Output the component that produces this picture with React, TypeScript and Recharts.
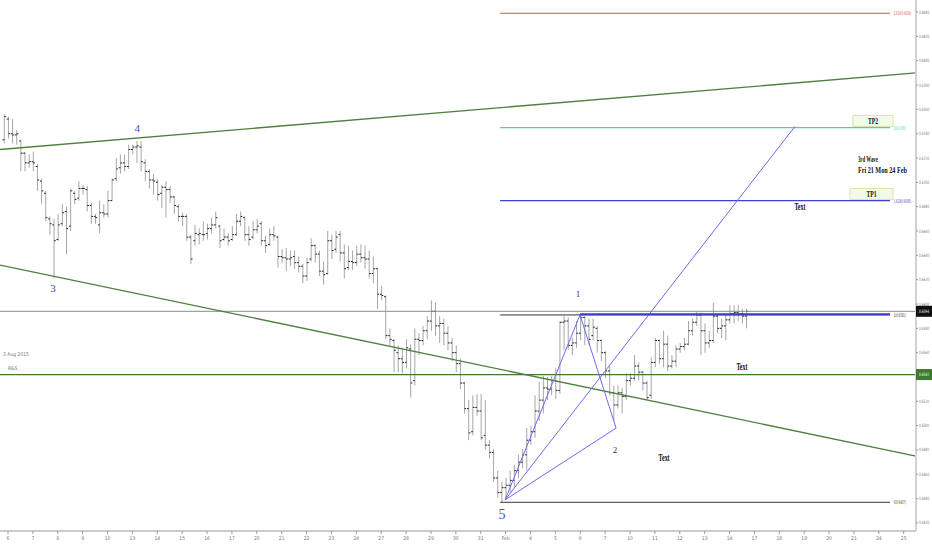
import React from 'react';
import {
  ComposedChart,
  Bar,
  XAxis,
  YAxis,
  ReferenceLine,
  ReferenceDot,
  ReferenceArea,
} from 'recharts';

// 4H bars: [open, high, low, close]
type Ohlc = [number, number, number, number];

const weekJan06: Ohlc[] = [
  [0.6735, 0.6756, 0.6732, 0.6754], [0.6752, 0.6754, 0.6736, 0.674], [0.674, 0.6752, 0.6732, 0.6739],
  [0.6739, 0.6743, 0.6731, 0.674], [0.6734, 0.6735, 0.6709, 0.6724], [0.6724, 0.6725, 0.6709, 0.6716],
  [0.6716, 0.6723, 0.6712, 0.6717], [0.6717, 0.6725, 0.6709, 0.6716], [0.6713, 0.6715, 0.6693, 0.6702],
  [0.6701, 0.6703, 0.6682, 0.6693], [0.6691, 0.6693, 0.6668, 0.6671], [0.667, 0.6672, 0.6657, 0.6666],
  [0.6665, 0.667, 0.6621, 0.6652], [0.6653, 0.6674, 0.6652, 0.6665], [0.6666, 0.6682, 0.6664, 0.6675],
  [0.6676, 0.668, 0.6641, 0.6662], [0.6664, 0.6695, 0.666, 0.6693], [0.6691, 0.6693, 0.6682, 0.6686],
  [0.6687, 0.6701, 0.6685, 0.6695], [0.6695, 0.6698, 0.669, 0.6695], [0.6694, 0.6697, 0.6676, 0.6681],
  [0.6681, 0.6683, 0.6666, 0.6672], [0.6672, 0.6674, 0.6666, 0.6671], [0.6665, 0.6685, 0.6658, 0.6675],
  [0.6675, 0.6682, 0.6671, 0.6674], [0.6674, 0.6693, 0.6671, 0.6685], [0.6685, 0.6703, 0.6685, 0.6702],
  [0.6703, 0.672, 0.6701, 0.6711], [0.6712, 0.6723, 0.6707, 0.6716], [0.6716, 0.6723, 0.6709, 0.6713],
  [0.6713, 0.6731, 0.6711, 0.6727],
];

const weekJan13: Ohlc[] = [
  [0.6727, 0.6731, 0.6723, 0.6729], [0.6729, 0.6734, 0.6716, 0.673], [0.6729, 0.6734, 0.6709, 0.6717],
  [0.6716, 0.6719, 0.6701, 0.6709], [0.6709, 0.6711, 0.6695, 0.6702], [0.6702, 0.6707, 0.669, 0.6701],
  [0.67, 0.6703, 0.6685, 0.669], [0.6691, 0.6698, 0.6679, 0.6696], [0.6696, 0.6701, 0.6671, 0.6694],
  [0.6694, 0.6697, 0.6683, 0.6688], [0.6688, 0.6689, 0.6674, 0.6681], [0.668, 0.6682, 0.6668, 0.6672],
  [0.6672, 0.6675, 0.6664, 0.6672], [0.6672, 0.6674, 0.6652, 0.6655], [0.6655, 0.6657, 0.6633, 0.6637],
  [0.6652, 0.6665, 0.6648, 0.6658], [0.6657, 0.6662, 0.6649, 0.6658], [0.6657, 0.6668, 0.6652, 0.6657],
  [0.6658, 0.6666, 0.6653, 0.6662], [0.6662, 0.6671, 0.6658, 0.6665], [0.6665, 0.6676, 0.6662, 0.6671],
  [0.6664, 0.6665, 0.6646, 0.6652], [0.6653, 0.6662, 0.6652, 0.6655], [0.6655, 0.6658, 0.6648, 0.6652],
  [0.6653, 0.6664, 0.6652, 0.6657], [0.6657, 0.6674, 0.6656, 0.6668], [0.6668, 0.6676, 0.6664, 0.6672],
  [0.6671, 0.6672, 0.6652, 0.6657], [0.6657, 0.6664, 0.6648, 0.6653], [0.6655, 0.6668, 0.6653, 0.6661],
];

const weekJan20: Ohlc[] = [
  [0.6661, 0.667, 0.6658, 0.6664], [0.6666, 0.6668, 0.6648, 0.6652], [0.6652, 0.6656, 0.6642, 0.6648],
  [0.6649, 0.6662, 0.6648, 0.6657], [0.6657, 0.6664, 0.6652, 0.6656], [0.6655, 0.6656, 0.663, 0.6639],
  [0.6639, 0.6645, 0.6634, 0.6638], [0.6638, 0.6646, 0.6627, 0.6637], [0.6637, 0.6644, 0.6631, 0.6638],
  [0.6639, 0.6644, 0.6629, 0.6634], [0.6634, 0.6639, 0.6626, 0.6631], [0.6631, 0.6633, 0.6617, 0.6623],
  [0.6623, 0.6638, 0.6619, 0.6634], [0.6637, 0.6654, 0.6635, 0.6648], [0.6648, 0.6649, 0.6634, 0.6641],
  [0.6641, 0.6644, 0.6623, 0.6627], [0.6627, 0.6635, 0.6616, 0.6624], [0.6625, 0.666, 0.6624, 0.6652],
  [0.6652, 0.6657, 0.6637, 0.6644], [0.6645, 0.666, 0.6642, 0.6655], [0.6657, 0.666, 0.6635, 0.6642],
  [0.6642, 0.6649, 0.6621, 0.6629], [0.663, 0.6648, 0.6628, 0.6635], [0.6635, 0.6644, 0.6628, 0.6634],
  [0.6634, 0.6648, 0.6631, 0.6641], [0.6641, 0.6649, 0.6634, 0.6638], [0.6638, 0.6648, 0.6629, 0.6637],
  [0.6637, 0.6644, 0.6621, 0.6625], [0.6625, 0.6639, 0.6617, 0.6629], [0.6629, 0.663, 0.6596, 0.6608],
];

const weekJan27: Ohlc[] = [
  [0.6608, 0.6615, 0.6603, 0.6607], [0.6606, 0.6607, 0.6571, 0.6574], [0.6574, 0.658, 0.6566, 0.6571],
  [0.657, 0.6571, 0.6544, 0.6562], [0.656, 0.6566, 0.6544, 0.6555], [0.6555, 0.6563, 0.6543, 0.6552],
  [0.6552, 0.6571, 0.6547, 0.6564], [0.6563, 0.6567, 0.6523, 0.6535], [0.6537, 0.658, 0.6533, 0.6571],
  [0.6571, 0.6576, 0.6558, 0.657], [0.657, 0.6582, 0.6566, 0.6578], [0.6578, 0.659, 0.6571, 0.6586],
  [0.6586, 0.6603, 0.6578, 0.6594], [0.6594, 0.6601, 0.6574, 0.6582], [0.6582, 0.659, 0.6568, 0.6584],
  [0.6584, 0.6588, 0.6566, 0.6576], [0.6576, 0.6582, 0.6562, 0.6568], [0.6568, 0.6572, 0.6553, 0.656],
  [0.656, 0.6566, 0.6544, 0.6551], [0.6551, 0.6555, 0.653, 0.6535], [0.6535, 0.6536, 0.651, 0.6514],
  [0.6514, 0.6521, 0.6488, 0.6494], [0.6495, 0.6525, 0.6492, 0.6515], [0.6515, 0.6526, 0.6508, 0.6512],
  [0.6512, 0.6526, 0.6488, 0.649], [0.6492, 0.6521, 0.648, 0.6484], [0.6484, 0.6488, 0.6473, 0.6478],
  [0.6478, 0.6481, 0.6454, 0.6457], [0.6457, 0.6463, 0.6441, 0.6445], [0.6445, 0.6454, 0.6437, 0.6449],
];

const weekFeb03: Ohlc[] = [
  [0.6449, 0.6457, 0.644, 0.6451], [0.6451, 0.6463, 0.6445, 0.6455], [0.6455, 0.6468, 0.6449, 0.6463],
  [0.6463, 0.6476, 0.6457, 0.647], [0.647, 0.6481, 0.6465, 0.6476], [0.6476, 0.6498, 0.6463, 0.6488],
  [0.6488, 0.65, 0.6484, 0.6495], [0.6495, 0.6525, 0.649, 0.6512], [0.6512, 0.6536, 0.6504, 0.6521],
  [0.6521, 0.6541, 0.651, 0.6531], [0.6531, 0.654, 0.6521, 0.653], [0.653, 0.6541, 0.6525, 0.6537],
  [0.6537, 0.6547, 0.6522, 0.6529], [0.6529, 0.6586, 0.6526, 0.6585], [0.6585, 0.659, 0.6562, 0.6586],
  [0.6586, 0.6589, 0.6562, 0.6566], [0.6566, 0.6572, 0.6558, 0.6568], [0.6568, 0.6586, 0.6564, 0.6576],
  [0.6576, 0.6592, 0.657, 0.6589], [0.6589, 0.659, 0.6566, 0.6582], [0.6582, 0.6588, 0.6566, 0.6571],
  [0.6574, 0.6588, 0.657, 0.6581], [0.658, 0.6582, 0.656, 0.657], [0.657, 0.6571, 0.6553, 0.656],
  [0.656, 0.6561, 0.6539, 0.6545], [0.6545, 0.6549, 0.6525, 0.6527], [0.6527, 0.6533, 0.6504, 0.6517],
  [0.6517, 0.6533, 0.6514, 0.6527], [0.6527, 0.6531, 0.651, 0.6524], [0.6524, 0.6543, 0.6521, 0.6537],
];

const weekFeb10: Ohlc[] = [
  [0.6537, 0.6543, 0.6533, 0.6539], [0.6539, 0.6558, 0.6537, 0.6549], [0.6549, 0.6552, 0.6537, 0.6544],
  [0.6544, 0.6545, 0.6529, 0.6535], [0.6535, 0.6537, 0.6521, 0.6523], [0.6525, 0.6556, 0.6522, 0.6552],
  [0.6552, 0.6572, 0.6548, 0.657], [0.657, 0.6571, 0.6551, 0.6555], [0.6555, 0.6578, 0.6548, 0.6567],
  [0.6567, 0.6574, 0.6545, 0.6549], [0.6549, 0.6558, 0.6547, 0.6553], [0.6553, 0.6566, 0.6548, 0.6563],
  [0.6563, 0.6568, 0.656, 0.6565], [0.6565, 0.6572, 0.6562, 0.6567], [0.6567, 0.6586, 0.6566, 0.6578],
  [0.6578, 0.6588, 0.6574, 0.6585], [0.6585, 0.6594, 0.6582, 0.6591], [0.6591, 0.6593, 0.6558, 0.6578],
  [0.6578, 0.6584, 0.656, 0.6568], [0.6568, 0.6578, 0.6564, 0.657], [0.657, 0.6601, 0.6568, 0.659],
  [0.659, 0.6591, 0.6576, 0.658], [0.658, 0.6588, 0.6572, 0.6582], [0.6582, 0.6592, 0.657, 0.6587],
  [0.6587, 0.6599, 0.6584, 0.6592], [0.6592, 0.6599, 0.6584, 0.6593], [0.6593, 0.6599, 0.6586, 0.6592],
  [0.6592, 0.6596, 0.6584, 0.659], [0.659, 0.6596, 0.658, 0.6594],
];

// one label per trading day (x unit = 1 day)
const dayLabels = [
  '6', '7', '8', '9', '10', '13', '14', '15', '16', '17', '20', '21', '22', '23', '24',
  '27', '28', '29', '30', '31', 'Feb', '4', '5', '6', '7', '10', '11', '12', '13', '14',
  '17', '18', '19', '20', '21', '24', '25',
];

const priceTicks = [
  0.642, 0.644, 0.646, 0.648, 0.65, 0.652, 0.654, 0.656, 0.658, 0.66, 0.662,
  0.664, 0.666, 0.668, 0.67, 0.672, 0.674, 0.676, 0.678, 0.68, 0.682, 0.684,
];

const lastPrice = 0.6594;
const supportLevel = 0.6542;

// fib extension drawn from wave 5 low to wave 1 high
const fibRatios = ['2.618', '2', '1.618', '1', '0'];
const fibValues = [0.6839, 0.6745, 0.6685, 0.6591, 0.6437];
const fibStart = 19.78;
const fibEnd = 35.45;

const upperChannel = [{ t: -0.32, p: 0.6727 }, { t: 36.49, p: 0.679 }];
const lowerChannel = [{ t: -0.32, p: 0.6632 }, { t: 36.49, p: 0.6475 }];

const wave5 = { t: 19.98, p: 0.6439 };
const wave1 = { t: 22.99, p: 0.6591 };
const wave2 = { t: 24.44, p: 0.6498 };
const projectionEnd = { t: 31.63, p: 0.6746 };
const wave1LineEnd = 35.45;

const waveLabels = [
  { text: '4', t: 5.19, p: 0.6745, size: 11 },
  { text: '3', t: 1.81, p: 0.6613, size: 11 },
  { text: '5', t: 19.86, p: 0.6427, size: 14 },
];
const legLabels = [
  { text: '1', t: 22.91, p: 0.6608 },
  { text: '2', t: 24.4, p: 0.648 },
];
const noteLabels = [
  { text: 'Text', t: 31.83, p: 0.668 },
  { text: 'Text', t: 29.5, p: 0.6548 },
  { text: 'Text', t: 26.37, p: 0.6473 },
];
const waveNote = ['3rd Wave', 'Fri 21  Mon 24 Feb'];
const waveNoteAt = { t: 34.16, p: [0.6719, 0.671] };
const targets = [
  { name: 'TP2', t1: 33.96, t2: 35.57, p1: 0.6755, p2: 0.6746 },
  { name: 'TP1', t1: 33.84, t2: 35.57, p1: 0.6695, p2: 0.6686 },
];
const sideNotes = [
  { text: '3 Aug 2015', t: -0.2, p: 0.6559 },
  { text: 'R&S', t: 0.0, p: 0.6547 },
];

const xDomain = [-0.3215, 36.495];
const yDomain = [0.64134, 0.68499];

const ohlcData = [...weekJan06, ...weekJan13, ...weekJan20, ...weekJan27, ...weekFeb03, ...weekFeb10].map(
  ([open, high, low, close], i) => ({ t: (i - 1) / 6, open, high, low, close })
);

const fibColors = ['#d9534f', '#3fd99a', '#4040d6', '#333333', '#333333'];
const channelColor = '#4f7f3f';
const waveBlue = '#6c6cf0';
const serif = '"Liberation Serif", "DejaVu Serif", serif';
const axisFont = '"DejaVu Sans Condensed", "DejaVu Sans", sans-serif';

function OhlcShape(props: any) {
  const { x, y, width, height, index } = props;
  const d = props.payload && props.payload.open !== undefined ? props.payload : ohlcData[index];
  if (!d) return null;
  const top = Math.min(y, y + height);
  const h = Math.abs(height);
  const span = d.high - d.low || 1;
  const cx = x + width / 2;
  const yOpen = top + ((d.high - d.open) / span) * h;
  const yClose = top + ((d.high - d.close) / span) * h;
  return (
    <g>
      <line x1={cx} x2={cx} y1={top} y2={top + h} stroke="#a6a6a6" strokeWidth={1} />
      <line x1={cx - 1.7} x2={cx} y1={yOpen} y2={yOpen} stroke="#222" strokeWidth={1} />
      <line x1={cx} x2={cx + 1.7} y1={yClose} y2={yClose} stroke="#222" strokeWidth={1} />
    </g>
  );
}

function PriceTick(props: any) {
  const { x, y, payload } = props;
  const v = payload.value;
  if (v === lastPrice || v === supportLevel) {
    const fill = v === lastPrice ? '#111111' : '#3e7a2e';
    return (
      <g>
        <rect x={x - 3} y={y - 5.5} width={16} height={11} fill={fill} />
        <text
          x={x + 5}
          y={y}
          fill="#fff"
          fontSize={4.5}
          fontFamily={axisFont}
          textAnchor="middle"
          dominantBaseline="central"
          textLength={10}
          lengthAdjust="spacingAndGlyphs"
        >
          {v.toFixed(4)}
        </text>
      </g>
    );
  }
  // the green marker box sits on top of this tick
  if (Math.abs(v - supportLevel) < 0.0004) return null;
  return (
    <text
      x={x}
      y={y}
      fill="#777"
      fontSize={4.5}
      fontFamily={axisFont}
      textAnchor="start"
      dominantBaseline="central"
      textLength={10}
      lengthAdjust="spacingAndGlyphs"
    >
      {v.toFixed(4)}
    </text>
  );
}

const textShape = (
  text: string,
  opts: { fill: string; size: number; anchor?: string; family?: string; squeeze?: number; weight?: string }
) =>
  (p: any) => (
    <text
      x={p.cx}
      y={p.cy}
      fill={opts.fill}
      fontSize={opts.size}
      fontFamily={opts.family || serif}
      fontWeight={opts.weight}
      textAnchor={opts.anchor || 'middle'}
      dominantBaseline="central"
      textLength={opts.squeeze}
      lengthAdjust={opts.squeeze ? 'spacingAndGlyphs' : undefined}
    >
      {text}
    </text>
  );

const TargetLabel = (props: any) => {
  const { viewBox, value } = props;
  if (!viewBox) return null;
  return (
    <text
      x={viewBox.x + viewBox.width / 2}
      y={viewBox.y + viewBox.height / 2}
      fill="#111"
      fontSize={8.5}
      fontWeight="bold"
      fontFamily={serif}
      textAnchor="middle"
      dominantBaseline="central"
      textLength={10}
      lengthAdjust="spacingAndGlyphs"
    >
      {value}
    </text>
  );
};

export default function App() {
  return (
    <div style={{ position: 'absolute', left: 0, top: 0, width: 932, height: 550, background: '#fff' }}>
      <ComposedChart width={932} height={550} data={ohlcData} margin={{ top: 0, right: 0, bottom: 0, left: 0 }}>
        <XAxis
          dataKey="t"
          type="number"
          domain={xDomain}
          allowDataOverflow
          ticks={dayLabels.map((_, i) => i)}
          interval={0}
          tickFormatter={(i: number) => dayLabels[i] ?? ''}
          height={19}
          tickSize={3}
          tick={{ fontSize: 5, fill: '#777', fontFamily: axisFont }}
          stroke="#999"
        />
        <YAxis
          orientation="right"
          type="number"
          domain={yDomain}
          allowDataOverflow
          width={16}
          ticks={[...priceTicks, supportLevel, lastPrice]}
          interval={0}
          tickSize={2}
          tickMargin={1}
          tick={<PriceTick />}
          axisLine={{ stroke: '#d2d2d2', strokeWidth: 2 }}
          tickLine={{ stroke: '#999' }}
        />

        <Bar dataKey={(d: any) => [d.low, d.high]} barSize={3} isAnimationActive={false} shape={(p: any) => <OhlcShape {...p} />} />

        {/* horizontal levels across the whole chart */}
        <ReferenceLine y={lastPrice} stroke="#8a8a8a" strokeWidth={1} />
        <ReferenceLine y={supportLevel} stroke="#3e7a2e" strokeWidth={1.2} />

        {/* channel */}
        <ReferenceLine
          segment={[{ x: upperChannel[0].t, y: upperChannel[0].p }, { x: upperChannel[1].t, y: upperChannel[1].p }]}
          stroke={channelColor}
          strokeWidth={1.3}
          ifOverflow="visible"
        />
        <ReferenceLine
          segment={[{ x: lowerChannel[0].t, y: lowerChannel[0].p }, { x: lowerChannel[1].t, y: lowerChannel[1].p }]}
          stroke={channelColor}
          strokeWidth={1.3}
          ifOverflow="visible"
        />

        {/* fib extension */}
        {fibValues.map((v, i) => (
          <ReferenceLine
            key={'fib' + i}
            segment={[{ x: fibStart, y: v }, { x: fibEnd, y: v }]}
            stroke={fibColors[i]}
            strokeWidth={i === 1 || i === 2 ? 1.4 : 1}
            ifOverflow="visible"
          />
        ))}
        {fibValues.map((v, i) => {
          const label = `${fibRatios[i]}(${v.toFixed(4)})`;
          return (
            <ReferenceDot
              key={'fibl' + i}
              x={fibEnd + 0.15}
              y={v}
              r={0}
              ifOverflow="visible"
              shape={textShape(label, {
                fill: fibColors[i],
                size: 5,
                anchor: 'start',
                family: axisFont,
                squeeze: label.length * 1.35,
              })}
            />
          );
        })}

        {/* wave 5 -> 1 -> 2 triangle and projection */}
        <ReferenceLine segment={[{ x: wave5.t, y: wave5.p }, { x: wave1.t, y: wave1.p }]} stroke={waveBlue} ifOverflow="visible" />
        <ReferenceLine segment={[{ x: wave1.t, y: wave1.p }, { x: wave2.t, y: wave2.p }]} stroke={waveBlue} ifOverflow="visible" />
        <ReferenceLine segment={[{ x: wave2.t, y: wave2.p }, { x: wave5.t, y: wave5.p }]} stroke={waveBlue} ifOverflow="visible" />
        <ReferenceLine
          segment={[{ x: wave5.t, y: wave5.p }, { x: projectionEnd.t, y: projectionEnd.p }]}
          stroke={waveBlue}
          ifOverflow="visible"
        />
        <ReferenceLine
          segment={[{ x: wave1.t, y: wave1.p + 0.00005 }, { x: wave1LineEnd, y: wave1.p + 0.00005 }]}
          stroke="#3a3ad6"
          strokeWidth={2}
          ifOverflow="visible"
        />

        {/* targets */}
        {targets.map((b) => (
          <ReferenceArea
            key={b.name}
            x1={b.t1}
            x2={b.t2}
            y1={b.p1}
            y2={b.p2}
            fill="#f2faea"
            fillOpacity={1}
            stroke="#e6dfa2"
            ifOverflow="visible"
            label={<TargetLabel value={b.name} />}
          />
        ))}

        {/* annotations */}
        {waveLabels.map((l) => (
          <ReferenceDot key={'w' + l.text} x={l.t} y={l.p} r={0} ifOverflow="visible" shape={textShape(l.text, { fill: '#4646c8', size: l.size })} />
        ))}
        {legLabels.map((l) => (
          <ReferenceDot key={'g' + l.text} x={l.t} y={l.p} r={0} ifOverflow="visible" shape={textShape(l.text, { fill: '#333', size: 9 })} />
        ))}
        {noteLabels.map((l, i) => (
          <ReferenceDot
            key={'n' + i}
            x={l.t}
            y={l.p}
            r={0}
            ifOverflow="visible"
            shape={textShape(l.text, { fill: '#111', size: 9.5, squeeze: 11, weight: 'bold' })}
          />
        ))}
        {waveNote.map((s, i) => (
          <ReferenceDot
            key={'wn' + i}
            x={waveNoteAt.t}
            y={waveNoteAt.p[i]}
            r={0}
            ifOverflow="visible"
            shape={textShape(s, { fill: '#111', size: 9, anchor: 'start', squeeze: i === 0 ? 20 : 49, weight: 'bold' })}
          />
        ))}
        {sideNotes.map((s, i) => (
          <ReferenceDot
            key={'sn' + i}
            x={s.t}
            y={s.p}
            r={0}
            ifOverflow="visible"
            shape={textShape(s.text, { fill: '#777', size: 5, anchor: 'start', family: axisFont })}
          />
        ))}
      </ComposedChart>
    </div>
  );
}
